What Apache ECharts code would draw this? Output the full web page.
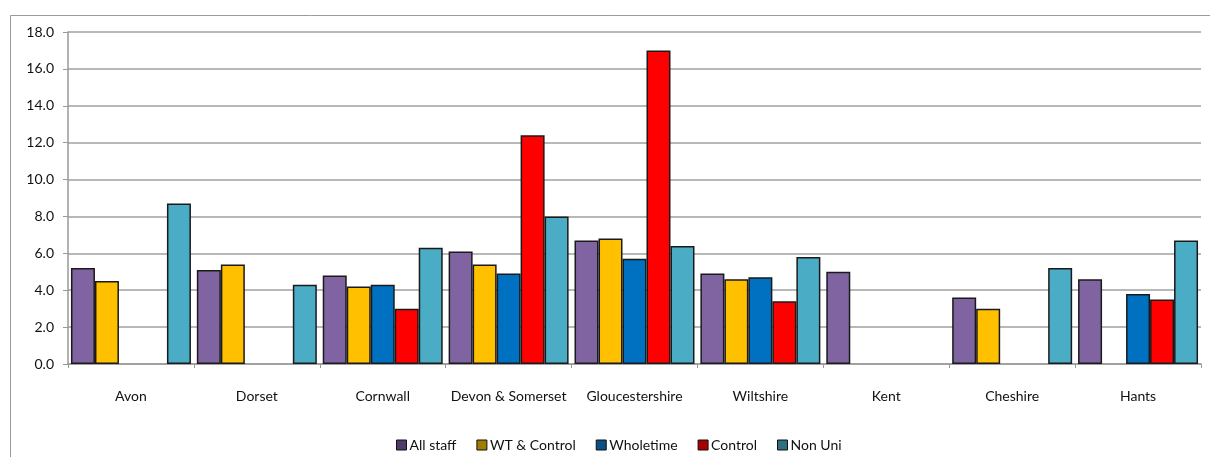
<!DOCTYPE html>
<html><head><meta charset="utf-8">
<script src="https://cdn.jsdelivr.net/npm/echarts@6/dist/echarts.min.js"></script>
<style>html,body{margin:0;padding:0;background:#fff}#c{width:1210px;height:457px}</style>
</head><body><div id="c"></div>
<script>
const categories = ['Avon','Dorset','Cornwall','Devon & Somerset','Gloucestershire','Wiltshire','Kent','Cheshire','Hants'];
const seriesNames = ['All staff','WT & Control','Wholetime','Control','Non Uni'];
const allStaff   = [5.2, 5.1, 4.8, 6.1, 6.7, 4.9, 5.0, 3.6, 4.6];
const wtControl  = [4.5, 5.4, 4.2, 5.4, 6.8, 4.6, null, 3.0, null];
const wholetime  = [null, null, 4.3, 4.9, 5.7, 4.7, null, null, 3.8];
const control    = [null, null, 3.0, 12.4, 17.0, 3.4, null, null, 3.5];
const nonUni     = [8.7, 4.3, 6.3, 8.0, 6.4, 5.8, null, 5.2, 6.7];
const yTicks = [0, 2, 4, 6, 8, 10, 12, 14, 16, 18];

const colors = ['#8064A2','#FFC000','#0070C0','#FF0000','#4BACC6'];
const legendColors = ['#4E3B6A','#A07C00','#0B4F86','#A80000','#2F6F80'];
const values = [allStaff, wtControl, wholetime, control, nonUni];
const font = 'Lato, "Open Sans", sans-serif';

const chart = echarts.init(document.getElementById('c'), null, {renderer:'canvas'});
chart.setOption({
  animation: false,
  backgroundColor: '#fff',
  textStyle: {fontFamily: font},
  graphic: [{
    type: 'rect', left: 8, top: 13, z: -1,
    shape: {width: 1220, height: 460},
    style: {fill: 'none', stroke: '#9a9a9a', lineWidth: 1}
  }],
  grid: {left: 68, right: 9, top: 32, bottom: 93, containLabel: false},
  legend: {
    left: 391, top: 433,
    itemWidth: 10, itemHeight: 10, itemGap: 20,
    icon: 'rect',
    textStyle: {fontFamily: font, fontSize: 14, color: '#111', padding: [0,0,0,-2]},
    data: seriesNames.map((n, i) => ({name: n, itemStyle: {color: legendColors[i], borderColor: '#111', borderWidth: 1}}))
  },
  xAxis: {
    type: 'category', data: categories,
    axisLine: {lineStyle: {color: '#999', width: 1.5}},
    axisTick: {show: true, length: 4, lineStyle: {color: '#999'}},
    axisLabel: {fontFamily: font, fontSize: 14, color: '#111', margin: 25, interval: 0}
  },
  yAxis: {
    type: 'value', min: yTicks[0], max: yTicks[yTicks.length-1], interval: 2,
    axisLine: {show: true, lineStyle: {color: '#999', width: 1.5}},
    axisTick: {show: true, length: 5, lineStyle: {color: '#999'}},
    axisLabel: {fontFamily: font, fontSize: 14, color: '#111', margin: 14, formatter: v => v.toFixed(1)},
    splitLine: {lineStyle: {color: '#a0a0a0', width: 1.5}}
  },
  series: seriesNames.map((n, i) => ({
    name: n, type: 'bar', data: values[i],
    barGap: '0%', barCategoryGap: '4.7%',
    itemStyle: {color: colors[i], borderColor: '#1a1a1a', borderWidth: 1.5}
  }))
});
</script></body></html>
